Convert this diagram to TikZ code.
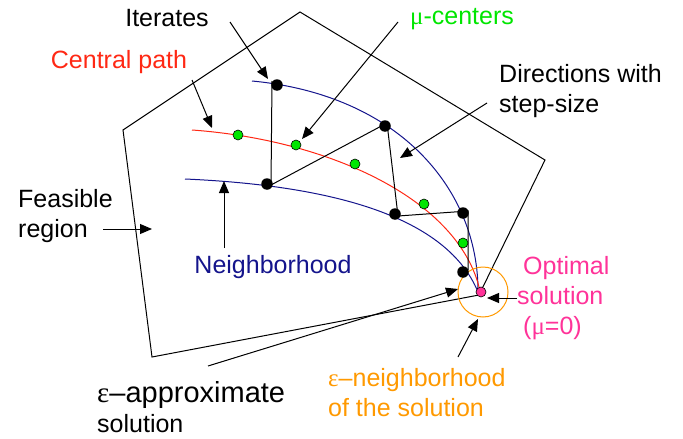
\documentclass[tikz,border=0pt]{standalone}
\usepackage{fontspec}
\setmainfont{Liberation Sans}
\newfontfamily\grk{Liberation Serif}
\usetikzlibrary{arrows.meta,positioning}
\definecolor{pathred}{RGB}{255,40,20}
\definecolor{nbblue}{RGB}{20,20,140}
\definecolor{ctrgreen}{RGB}{0,230,0}
\definecolor{optpink}{RGB}{255,51,153}
\definecolor{epsorange}{RGB}{255,153,0}

\begin{document}
\begin{tikzpicture}[x=1pt,y=-1pt,
    every node/.style={font=\fontsize{25}{30}\selectfont,inner sep=0pt},
    itdot/.style={circle,fill=black,minimum size=11.5pt},
    ctrdot/.style={circle,draw=black,line width=0.6pt,fill=ctrgreen,minimum size=10pt},
    arr/.style={line width=1pt,-{Triangle[length=12pt,width=10pt]}}]
  \useasboundingbox (0,0) rectangle (683,439);
  % feasible region
  \draw[line width=1pt] (300,12) -- (545,160) -- (479,295) -- (152,357) -- (123,130) -- cycle;
  % neighborhood and central path
  \draw[nbblue,line width=1pt] (252,81) .. controls (400,95) and (478,190) .. (478,291);
  \draw[pathred,line width=1pt] (192,130) .. controls (330,140) and (460,200) .. (480,291);
  \draw[nbblue,line width=1pt] (185,179) .. controls (320,185) and (445,212) .. (478,292);
  % steps
  \coordinate (p1) at (272,81);
  \coordinate (p2) at (271,185);
  \coordinate (p3) at (387,123);
  \coordinate (p4) at (398,216);
  \coordinate (p5) at (468,211);
  \coordinate (p6) at (468,270);
  \draw[line width=1pt] (p1) -- (p2) -- (p3) -- (p4) -- (p5) -- (p6);
  \node[circle,draw=epsorange,line width=1pt,minimum size=50pt] (epsball) at (483,292) {};
  \foreach \n/\x/\y in {1/277/85,2/267/184,3/385/126,4/395/214,5/463/213,6/463/272}
    \node[itdot] (it\n) at (\x,\y) {};
  \foreach \n/\x/\y in {1/238/135,2/296/145,3/355/164,4/424/204,5/463/243}
    \node[ctrdot] (c\n) at (\x,\y) {};
  \node[circle,draw=black,line width=0.6pt,fill=optpink,minimum size=10pt] (opt) at (481,292) {};
  % labels
  \node[anchor=base] (iterLbl) at (167,27) {Iterates};
  \node[anchor=base,pathred] (cpLbl) at (119,68) {Central path};
  \node[anchor=base,ctrgreen] (muLbl) at (462,24) {{\grk μ}-centers};
  \node[anchor=west,align=left] (dirLbl) at (499,91) {Directions with\\step-size};
  \node[anchor=west,align=left] (feasLbl) at (18,216) {Feasible\\region};
  \node[anchor=base,nbblue] (nbLbl) at (273,273) {Neighborhood};
  \node[anchor=west,align=left] (epsLbl) at (97,407) {{\fontsize{29}{30}\selectfont{\grk ε}–approximate}\\solution};
  \node[anchor=west,align=left,epsorange] (enLbl) at (328,393) {{\grk ε}–neighborhood\\of the solution};
  \node[anchor=west,align=left,optpink] (optLbl) at (517,298) {\hspace{6pt}Optimal\\solution\\\hspace{6pt}({\grk μ}=0)};
  % pointers
  \coordinate (iterTail) at (230,22);  \coordinate (iterTip) at (268,79);
  \coordinate (cpTail) at (192,80);    \coordinate (cpTip) at (212,128);
  \coordinate (muTail) at (398,22);    \coordinate (muTip) at (302,139);
  \coordinate (dirTail) at (487,103);  \coordinate (dirTip) at (400,158);
  \coordinate (nbTail) at (224,248);   \coordinate (nbTip) at (224,181);
  \coordinate (feasTail) at (103,229); \coordinate (feasTip) at (152,229);
  \coordinate (epsTail) at (208,366);  \coordinate (epsTip) at (458,289);
  \coordinate (optTail) at (517,298);  \coordinate (optTip) at (487,298);
  \coordinate (enTail) at (458,357);   \coordinate (enTip) at (478,319);
  \draw[arr] (iterTail) -- (iterTip);
  \draw[arr] (cpTail) -- (cpTip);
  \draw[arr] (muTail) -- (muTip);
  \draw[arr] (dirTail) -- (dirTip);
  \draw[arr] (nbTail) -- (nbTip);
  \draw[arr] (feasTail) -- (feasTip);
  \draw[arr] (epsTail) -- (epsTip);
  \draw[arr] (optTail) -- (optTip);
  \draw[arr] (enTail) -- (enTip);
\end{tikzpicture}
\end{document}
